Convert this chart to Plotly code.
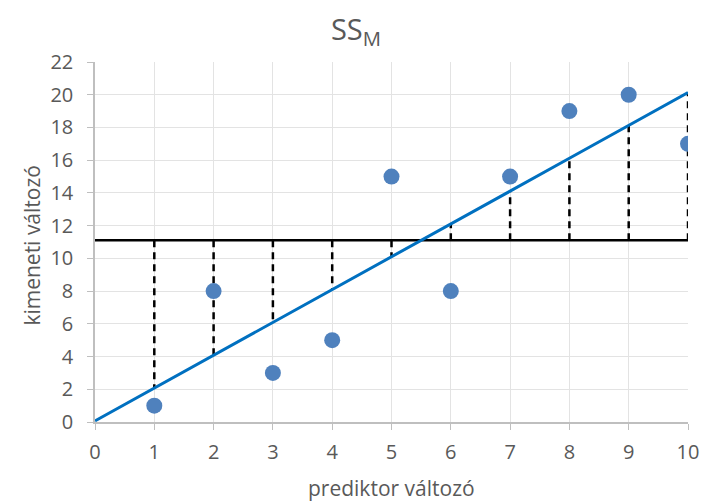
import plotly.graph_objects as go

x_vals = [1, 2, 3, 4, 5, 6, 7, 8, 9, 10]
y_vals = [1, 8, 3, 5, 15, 8, 15, 19, 20, 17]
fit_x = [0, 1, 2, 3, 4, 5, 6, 7, 8, 9, 10]
fit_y = [0.07, 2.07, 4.08, 6.09, 8.09, 10.10, 12.10, 14.11, 16.12, 18.12, 20.13]
mean_y = 11.1

font = "Open Sans, Liberation Sans, sans-serif"
grey = "#595959"

fig = go.Figure()

# dashed residual lines from mean to fitted
dx, dy = [], []
for xi, fy in zip(fit_x[1:], fit_y[1:]):
    dx += [xi, xi, None]
    dy += [mean_y, fy, None]
fig.add_trace(go.Scatter(x=dx, y=dy, mode="lines",
                         line=dict(color="black", width=2.5, dash="7px,5px"),
                         hoverinfo="skip", showlegend=False))
# mean line
fig.add_trace(go.Scatter(x=[fit_x[0], fit_x[-1]], y=[mean_y, mean_y], mode="lines",
                         line=dict(color="black", width=2.5), showlegend=False))
# regression line
fig.add_trace(go.Scatter(x=fit_x, y=fit_y, mode="lines",
                         line=dict(color="#0070c0", width=3), showlegend=False))
# points
fig.add_trace(go.Scatter(x=x_vals, y=y_vals, mode="markers",
                         marker=dict(color="#4f81bd", size=16), showlegend=False))

fig.update_layout(
    width=702, height=503,
    margin=dict(l=95, r=14, t=62, b=81, autoexpand=False),
    paper_bgcolor="white", plot_bgcolor="white",
    title=dict(text="SS<sub>M</sub>", x=0.507, xanchor="center", y=0.94, yanchor="middle",
               font=dict(family=font, size=29, color=grey)),
    font=dict(family=font, color=grey),
    annotations=[
        dict(text="prediktor változó", xref="paper", yref="paper", x=0.5, y=0,
             xanchor="center", yanchor="middle", yshift=-66, showarrow=False,
             font=dict(family=font, size=21, color=grey)),
        dict(text="kimeneti változó", xref="paper", yref="paper", x=0, y=0.49,
             xanchor="center", yanchor="middle", xshift=-63, textangle=-90, showarrow=False,
             font=dict(family=font, size=21, color=grey)),
    ],
)
fig.update_xaxes(range=[0, 10], tickmode="linear", tick0=0, dtick=1, automargin=False,
                 showgrid=True, gridcolor="#e3e3e3", gridwidth=1.2,
                 showline=True, linecolor="#bfbfbf", linewidth=1.5,
                 ticks="outside", ticklen=6, tickcolor="#bfbfbf", ticklabelstandoff=5,
                 tickfont=dict(size=20, color=grey), zeroline=False)
fig.update_yaxes(range=[0, 22], tickmode="linear", tick0=0, dtick=2, automargin=False,
                 showgrid=True, gridcolor="#e3e3e3", gridwidth=1.2,
                 showline=True, linecolor="#bfbfbf", linewidth=1.5,
                 ticks="outside", ticklen=6, tickcolor="#bfbfbf", ticklabelstandoff=10,
                 tickfont=dict(size=20, color=grey), zeroline=False)

fig.write_html("out.html")
